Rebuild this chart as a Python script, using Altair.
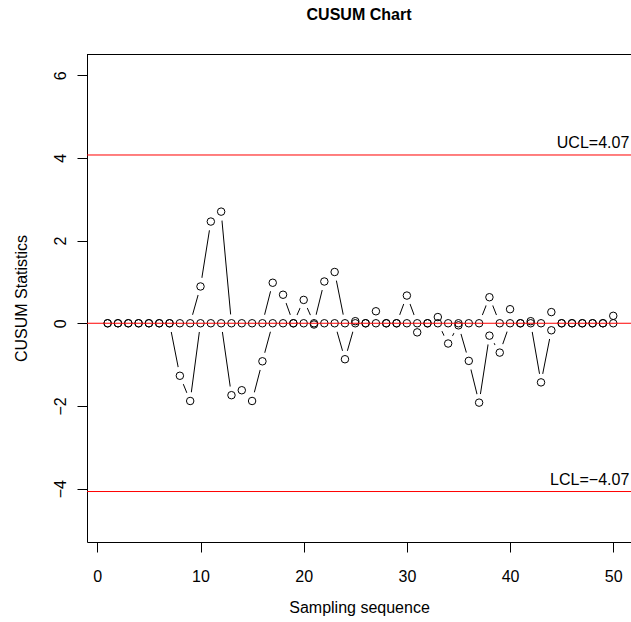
import altair as alt
import pandas as pd

# Sampling sequence and the two one-sided CUSUM statistics (upper C+ and lower C-)
sample = list(range(1, 51))
cusum_upper = [
    0, 0, 0, 0, 0, 0, 0, 0, 0, 0.89,
    2.46, 2.70, 0, 0, 0, 0, 0.98, 0.69, 0, 0.565,
    0, 1.01, 1.24, 0, 0.05, 0, 0.29, 0, 0, 0.67,
    0, 0, 0.15, 0, 0, 0, 0, 0.63, 0, 0.34,
    0, 0.05, 0, 0.27, 0, 0, 0, 0, 0, 0.18,
]
cusum_lower = [
    0, 0, 0, 0, 0, 0, 0, -1.27, -1.88, 0,
    0, 0, -1.74, -1.62, -1.88, -0.92, 0, 0, 0, 0,
    -0.03, 0, 0, -0.87, 0, 0, 0, 0, 0, 0,
    -0.22, 0, 0, -0.49, -0.05, -0.91, -1.92, -0.30, -0.71, 0,
    0, 0, -1.43, -0.17, 0, 0, 0, 0, 0, 0,
]

# Control limits
ucl = 4.07
lcl = -4.07
center = 0.0

x_ticks = [0, 10, 20, 30, 40, 50]
y_ticks = [-4, -2, 0, 2, 4, 6]

PLOT_W = 544
PLOT_H = 488
FONT = "Liberation Sans"

rows = []
for s, u, l in zip(sample, cusum_upper, cusum_lower):
    rows.append({"sample": s, "stat": u, "side": "upper"})
    rows.append({"sample": s, "stat": l, "side": "lower"})
df = pd.DataFrame(rows)

limits = pd.DataFrame({
    "value": [ucl, center, lcl],
    "label": [f"UCL={ucl:.2f}", "", f"LCL={lcl:.2f}".replace("-", "\u2212")],
})

x_scale = alt.Scale(domain=[-1.0, 51.72], nice=False, zero=False)
y_scale = alt.Scale(domain=[-5.291, 6.513], nice=False, zero=False)

x_axis = alt.Axis(
    values=x_ticks, tickSize=10, labelPadding=29, labelBaseline="alphabetic",
    labelFontSize=16, labelFont=FONT, labelColor="black", labelFlush=False,
    labelOverlap=False, domainColor="black", tickColor="black", grid=False,
    title="Sampling sequence", titleFontSize=16, titleFont=FONT,
    titleFontWeight="normal", titleColor="black", titleBaseline="alphabetic",
    titleY=70,
)
y_axis = alt.Axis(
    values=y_ticks, tickSize=10, labelAngle=270, labelAlign="center",
    labelBaseline="alphabetic", labelPadding=12, labelFontSize=16,
    labelFont=FONT, labelColor="black", labelOverlap=False, labelFlush=False,
    domainColor="black", tickColor="black", grid=False,
    title="CUSUM Statistics", titleFontSize=16, titleFont=FONT,
    titleFontWeight="normal", titleColor="black", titleAngle=270,
    titleAlign="center", titleBaseline="alphabetic", titleX=-60.5,
    titleY=PLOT_H / 2,
)

base = alt.Chart(df).encode(
    x=alt.X("sample:Q", scale=x_scale, axis=x_axis),
    y=alt.Y("stat:Q", scale=y_scale, axis=y_axis),
)

# type "b" style: connecting lines broken around each point
lines = base.mark_line(color="black", strokeWidth=1).encode(detail="side:N")
gaps = base.mark_point(shape="circle", filled=True, color="white",
                       size=324, opacity=1, strokeWidth=0)
points = base.mark_point(shape="circle", filled=False, color="black",
                         size=56, strokeWidth=1, opacity=1)

limit_lines = alt.Chart(limits).mark_rule(color="red", strokeWidth=1).encode(
    y=alt.Y("value:Q", scale=y_scale)
)
limit_text = alt.Chart(limits).transform_filter(
    alt.datum.label != ""
).mark_text(
    align="right", baseline="alphabetic", dy=-6.5, fontSize=16, font=FONT,
    color="black",
).encode(
    x=alt.value(PLOT_W - 1.7),
    y=alt.Y("value:Q", scale=y_scale),
    text="label:N",
)

# top edge of the plot frame
frame_top = alt.Chart(limits).mark_rule(color="black", strokeWidth=1).encode(
    x=alt.value(0), x2=alt.value(PLOT_W), y=alt.value(0.5)
)

chart = alt.layer(
    lines, gaps, points, limit_lines, limit_text, frame_top
).properties(
    width=PLOT_W,
    height=PLOT_H,
    title=alt.TitleParams(
        "CUSUM Chart", fontSize=16, fontWeight="bold", font=FONT,
        color="black", anchor="middle", baseline="alphabetic", offset=18,
    ),
    autosize="none",
    padding={"left": 87, "top": 54, "right": 0, "bottom": 80},
).configure(background="white").configure_view(stroke=None)

chart.save("out.html", embed_options={"renderer": "svg", "actions": False})
